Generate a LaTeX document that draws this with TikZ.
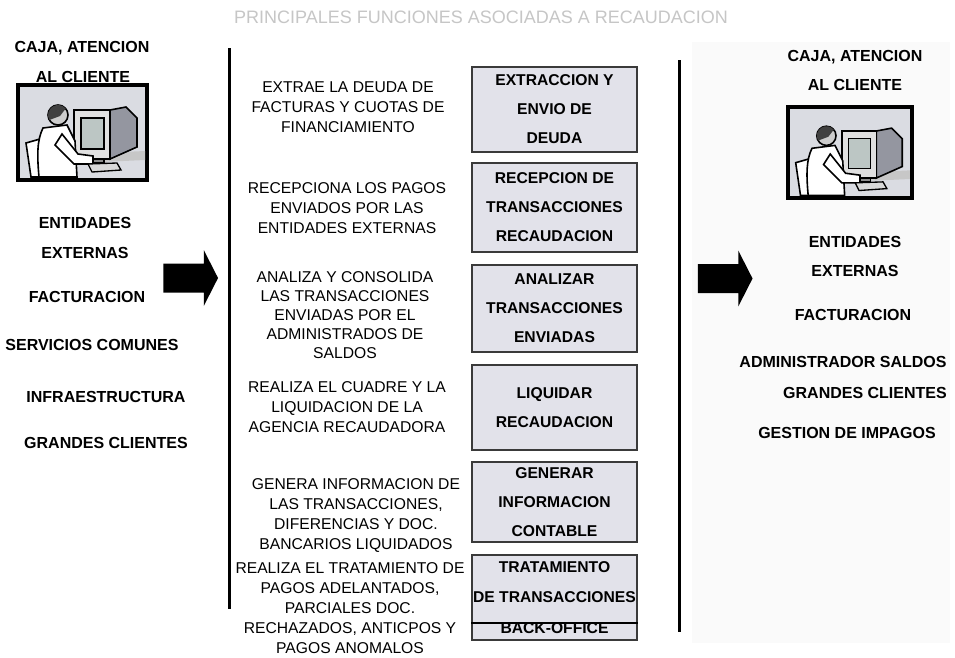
\documentclass[tikz,border=0pt]{standalone}
\usepackage{fontspec}
\setmainfont{Liberation Sans}
\usetikzlibrary{shapes.arrows}

\definecolor{recuadro}{RGB}{226,226,234}
\definecolor{fondoicono}{RGB}{218,220,226}
\definecolor{pantalla}{RGB}{188,198,196}
\definecolor{carcasa}{RGB}{148,150,160}
\definecolor{titulo}{RGB}{198,198,198}

\tikzset{every picture/.style={line width=0.75pt}}
\tikzset{
  grupo/.style={font=\fontsize{12}{14}\selectfont\bfseries},
  funcion/.style={align=center, font=\fontsize{11.75}{15}\selectfont},
  proceso/.style={draw={rgb, 255:red, 58; green, 58; blue, 58}, line width=1.5pt, fill=recuadro,
    align=center, inner sep=0pt, minimum width=123.75pt,
    font=\fontsize{11.75}{21.75}\selectfont\bfseries},
  flecha/.style={single arrow, fill=black, draw=none, inner xsep=0pt, inner ysep=10.5pt,
    minimum height=41pt, single arrow head extend=10pt, single arrow tip angle=126},
  separador/.style={line width=2.25pt},
  % operator at the workstation (drawn with y going down)
  operador/.pic={
    \begin{scope}[yscale=-1]
    \draw [line width=3pt, fill=fondoicono] (0,0) rectangle (129,95);
    \fill [black!22] (40,70) -- (127,66) -- (127,75) -- (40,79) -- cycle;
    \draw [line width=1.2pt, fill=carcasa] (92,25) -- (108,22) -- (119,33) -- (119,62) -- (92,74) -- cycle;
    \draw [line width=1.2pt, fill=black!12] (56,25) rectangle (92,74);
    \draw [line width=1pt, fill=pantalla] (63,33) rectangle (86,64);
    \draw [line width=1pt, fill=black!45] (66,74) rectangle (86,78);
    \draw [line width=1.2pt, fill=white] (8,58) -- (22,54) -- (30,92) -- (13,92) -- cycle;
    \draw [line width=1.2pt, fill=white] (25,43) -- (49,40) -- (57,56) -- (59,92) -- (21,92) .. controls (19,70) and (19,55) .. (25,43) -- cycle;
    \draw [line width=1.2pt, fill=white] (44,49) -- (60,69) -- (75,71) -- (75,79) -- (56,79) -- (37,60) -- cycle;
    \draw [line width=1.2pt, fill=black!20] (40,30) circle (10);
    \fill [black!75] ([shift={(150:10)}]40,30) arc (150:320:10) -- (42,31) -- cycle;
    \draw [line width=1pt, fill=black!15] (70,79) -- (99,78) -- (103,85) -- (74,87) -- cycle;
    \end{scope}
  }
}

\begin{document}
\begin{tikzpicture}[x=0.75pt,y=0.75pt,yscale=-1,xscale=1]

\path [use as bounding box, fill=white] (0,0) rectangle (955,657);
\fill [black!2] (692,42) rectangle (950,643);

% Text Node
\node [font=\fontsize{13.5}{16}\selectfont, text=titulo] (titulo) at (481,17) {PRINCIPALES FUNCIONES ASOCIADAS A RECAUDACION};

%Straight Lines
\draw [separador] (229,48) -- (229,609);
\draw [separador] (679,60) -- (679,632);

% left column
\node [grupo] (cajaIzq) at (82,48) {CAJA, ATENCION};
\node [grupo] (clienteIzq) at (83,77) {AL CLIENTE};
\pic at (18,85) {operador};
\node [grupo] (entidadesIzq) at (85,223) {ENTIDADES};
\node [grupo] (externasIzq) at (85,253) {EXTERNAS};
\node [grupo] (facturacionIzq) at (87,297) {FACTURACION};
\node [grupo] (servicios) at (92,345) {SERVICIOS COMUNES};
\node [grupo] (infraestructura) at (106,397) {INFRAESTRUCTURA};
\node [grupo] (grandesIzq) at (106,443) {GRANDES CLIENTES};
\node [flecha] (flechaIzq) at (187,278) {};

% Text Node
\node [funcion] (extrae) at (348,107) {EXTRAE LA DEUDA DE\\FACTURAS Y CUOTAS DE\\FINANCIAMIENTO};
\node [funcion] (recepciona) at (347,208) {RECEPCIONA LOS PAGOS\\ENVIADOS POR LAS\\ENTIDADES EXTERNAS};
\node [funcion, font=\fontsize{11.75}{14.4}\selectfont] (analiza) at (345,315) {ANALIZA Y CONSOLIDA\\LAS TRANSACCIONES\\ENVIADAS POR EL\\ADMINISTRADOS DE\\SALDOS};
\node [funcion] (realiza) at (347,407) {REALIZA EL CUADRE Y LA\\LIQUIDACION DE LA\\AGENCIA RECAUDADORA};
\node [funcion] (genera) at (356,515) {GENERA INFORMACION DE\\LAS TRANSACCIONES,\\DIFERENCIAS Y DOC.\\BANCARIOS LIQUIDADOS};
\node [funcion] (trata) at (350,608) {REALIZA EL TRATAMIENTO DE\\PAGOS ADELANTADOS,\\PARCIALES DOC.\\RECHAZADOS, ANTICPOS Y\\PAGOS ANOMALOS};

%Rect
\node [proceso, minimum height=63.75pt] (extraccion) at (554.5,109.5) {EXTRACCION Y\\ENVIO DE\\DEUDA};
\node [proceso, minimum height=66.75pt] (recepcion) at (554.5,207.5) {RECEPCION DE\\TRANSACCIONES\\RECAUDACION};
\node [proceso, minimum height=65.25pt] (analizar) at (554.5,308.5) {ANALIZAR\\TRANSACCIONES\\ENVIADAS};
\node [proceso, minimum height=63.75pt] (liquidar) at (554.5,407.5) {LIQUIDAR\\RECAUDACION};
\node [proceso, minimum height=60pt] (generar) at (554.5,502) {GENERAR\\INFORMACION\\CONTABLE};
\node [proceso, minimum height=63.75pt, font=\fontsize{11.75}{23}\selectfont\bfseries] (tratamiento) at (554.5,597.5) {TRATAMIENTO\\DE TRANSACCIONES\\BACK-OFFICE};
\draw [line width=1.5pt] ([yshift=-13.5pt]tratamiento.south west) -- ([yshift=-13.5pt]tratamiento.south east);

% right column
\node [flecha] (flechaDer) at (721.5,278.5) {};
\node [grupo] (cajaDer) at (855,57) {CAJA, ATENCION};
\node [grupo] (clienteDer) at (855,85) {AL CLIENTE};
\pic [scale=0.96] at (788,107) {operador};
\node [grupo] (entidadesDer) at (855,242) {ENTIDADES};
\node [grupo] (externasDer) at (855,271) {EXTERNAS};
\node [grupo] (facturacionDer) at (853,315) {FACTURACION};
\node [grupo] (administrador) at (843,362) {ADMINISTRADOR SALDOS};
\node [grupo] (grandesDer) at (865,393) {GRANDES CLIENTES};
\node [grupo] (gestion) at (847,433) {GESTION DE IMPAGOS};

\end{tikzpicture}
\end{document}
